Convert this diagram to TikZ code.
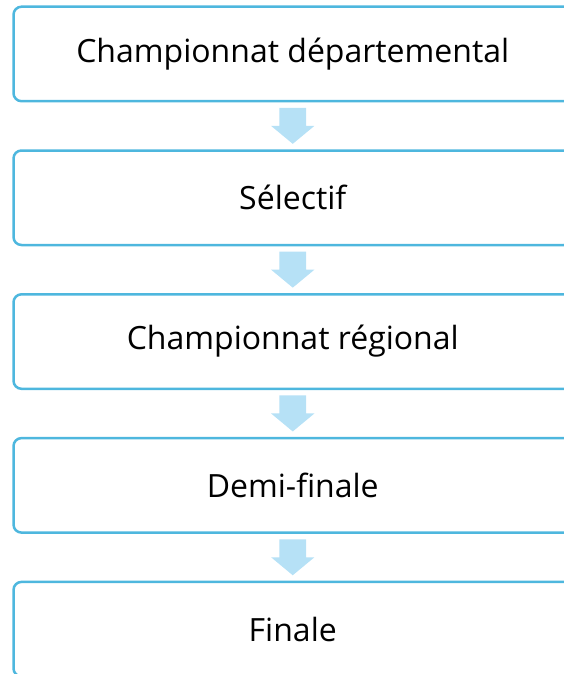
\documentclass[tikz,border=0pt]{standalone}
\usepackage{fontspec}
\setmainfont{Open Sans}
\usetikzlibrary{calc}
\definecolor{bordeazul}{RGB}{78,183,222}
\definecolor{flechaazul}{RGB}{182,225,246}
\tikzset{caja/.style = {draw=bordeazul, line width=2.5pt, rounded corners=8pt,
                        minimum width=558.5pt, minimum height=94.5pt, inner sep=0pt,
                        font=\fontsize{32}{38}\selectfont},
         flecha/.style = {fill=flechaazul, draw=none}}

\begin{document}
\begin{tikzpicture}[x=1pt, y=1pt]
    \useasboundingbox (0, 0) rectangle (563, -674);

    \foreach \txt [count=\i] in {Championnat départemental, Sélectif, Championnat régional, Demi-finale, Finale} {
      \node [caja] (b\i) at (292.75, {-53.95 - 143.8*(\i-1)}) {\txt};
    }

    \foreach \i [evaluate=\i as \j using int(\i+1)] in {1, 2, 3, 4} {
      \coordinate (m\i) at ($(b\i.south)!0.5!(b\j.north)$);
      \begin{scope}[shift={(m\i)}]
        \fill [flecha] (-13.4, 18) -- (13.4, 18) -- (13.4, 0) -- (21.7, 0)
                       -- (0, -18) -- (-21.7, 0) -- (-13.4, 0) -- cycle;
      \end{scope}
    }
  \end{tikzpicture}
\end{document}
